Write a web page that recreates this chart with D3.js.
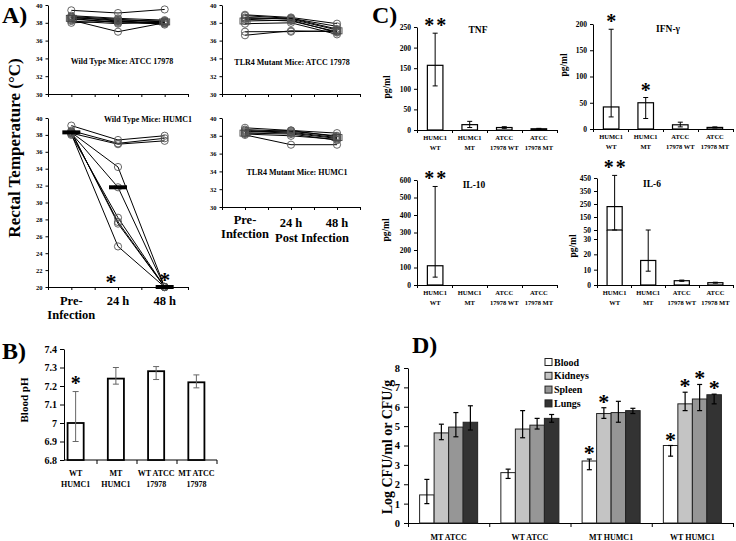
<!DOCTYPE html>
<html><head><meta charset="utf-8">
<script src="https://cdn.jsdelivr.net/npm/d3@7"></script>
<style>
body{margin:0;background:#fff;}
svg text{font-family:"Liberation Serif","Times New Roman",serif;font-weight:bold;fill:#000;}
</style></head><body>
<svg id="c" width="736" height="541"></svg>
<script>
// ---------------- DATA ----------------
const timepoints = ["Pre-Infection", "24 h", "48 h"];
const tempTicksSmall = [30, 32, 34, 36, 38, 40];
const tempTicksLarge = [20, 22, 24, 26, 28, 30, 32, 34, 36, 38, 40];

const wtAtccMice = [[39.4,39.1,39.5],[38.8,38.5,38.3],[38.7,38.4,38.1],[38.6,38.3,38.2],[38.5,38.0,37.9],
  [38.3,37.0,38.0],[38.2,37.9,38.2],[38.0,38.2,37.8],[38.6,38.2,38.0],[38.4,38.1,38.0]];
const wtAtccMean = [38.5, null, 38.1];

const mtAtccMice = [[38.9,38.6,37.9],[38.8,38.5,37.6],[38.6,38.4,37.2],[38.4,38.2,37.0],[38.2,38.3,36.9],
  [37.9,38.0,36.7],[37.0,37.0,37.1],[36.6,37.1,37.0],[38.5,38.5,37.3]];
const mtAtccMean = [38.2, null, 37.1];

const wtHumcMice = [[39.1,37.4,37.9],[38.5,37.0,37.6],[38.2,36.9,37.3],
  [38.3,34.2,20.0],[38.2,31.8,20.0],[38.0,28.2,20.0],[38.4,27.5,20.0],[38.3,27.7,20.0],[38.1,24.8,20.0]];
const wtHumcMean = [38.3, 31.8, 20.0];
const wtHumcSig = [{t:"24 h", v:21.0, dx:-7}, {t:"48 h", v:21.2, dx:0}];

const mtHumcMice = [[38.9,38.6,38.3],[38.7,38.5,38.0],[38.6,38.4,37.8],[38.5,38.3,37.7],[38.3,38.2,37.5],
  [38.2,38.0,37.6],[38.1,37.0,37.0],[38.4,38.6,37.9]];
const mtHumcMean = [38.3, null, 37.8];

// B) blood pH
const phGroups = ["WT HUMC1", "MT HUMC1", "WT ATCC 17978", "MT ATCC 17978"];
const phLabels = [["WT","HUMC1"],["MT","HUMC1"],["WT ATCC","17978"],["MT ATCC","17978"]];
const phMean = [7.00, 7.24, 7.28, 7.22];
const phLow  = [6.90, 7.21, 7.235, 7.19];
const phHigh = [7.17, 7.30, 7.305, 7.26];
const phSig  = ["*", "", "", ""];
const phTicks = [6.8, 6.9, 7.0, 7.1, 7.2, 7.3, 7.4];

// C) cytokines
const cytoGroups = ["HUMC1 WT", "HUMC1 MT", "ATCC 17978 WT", "ATCC 17978 MT"];
const cytoLabels = [["HUMC1","WT"],["HUMC1","MT"],["ATCC","17978 WT"],["ATCC","17978 MT"]];
const tnfMean = [157, 13, 6, 3];
const tnfLow  = [107, 6, 4, 2];
const tnfHigh = [235, 21, 8, 4];
const tnfSig  = ["**", "", "", ""];
const tnfTicks = [0, 50, 100, 150, 200, 250];

const ifnMean = [42, 50, 8, 3];
const ifnLow  = [23, 20, 4, 2];
const ifnHigh = [190, 60, 13, 4];
const ifnSig  = ["*", "*", "", ""];
const ifnTicks = [0, 50, 100, 150, 200];

const il10Mean = [110, 0, 0, 0];
const il10Low  = [45, null, null, null];
const il10High = [563, null, null, null];
const il10Sig  = ["**", "", "", ""];
const il10Ticks = [0, 100, 200, 300, 400, 500, 600];

const il6Mean = [230, 16, 2.8, 1.5];
const il6Low  = [50, 9, 2.4, 1.2];
const il6High = [470, 50, 3.2, 1.8];
const il6Sig  = ["**", "", "", ""];
const il6Ticks = [0, 10, 20, 30, 50, 150, 250, 350, 450];

// D) bacterial burden
const dGroups = ["MT ATCC", "WT ATCC", "MT HUMC1", "WT HUMC1"];
const dSeries = ["Blood", "Kidneys", "Spleen", "Lungs"];
const bloodMean   = [1.45, 2.60, 3.20, 4.00];
const bloodLow    = [1.00, 2.30, 2.75, 3.45];
const bloodHigh   = [2.25, 2.78, 3.30, 4.00];
const kidneysMean = [4.65, 4.85, 5.65, 6.15];
const kidneysLow  = [4.30, 4.40, 5.40, 5.80];
const kidneysHigh = [5.10, 5.80, 5.95, 6.75];
const spleenMean  = [4.95, 5.05, 5.70, 6.40];
const spleenLow   = [4.45, 4.85, 5.20, 5.80];
const spleenHigh  = [5.70, 5.40, 6.28, 7.15];
const lungsMean   = [5.20, 5.40, 5.80, 6.62];
const lungsLow    = [4.80, 5.20, 5.65, 6.15];
const lungsHigh   = [6.05, 5.60, 5.92, 6.65];
const bloodSig   = ["", "", "*", "*"];
const kidneysSig = ["", "", "*", "*"];
const spleenSig  = ["", "", "", "*"];
const lungsSig   = ["", "", "", "*"];
const dColors = ["#ffffff", "#c4c4c4", "#969696", "#333333"];
const dTicks = [0, 1, 2, 3, 4, 5, 6, 7, 8];

// ---------------- DRAWING ----------------
const svg = d3.select("#c");

function styleAxis(sel, fs) {
  sel.select(".domain").attr("stroke", "#000").attr("stroke-width", 1);
  sel.selectAll(".tick line").attr("stroke", "#000").attr("stroke-width", 1);
  sel.selectAll(".tick text").attr("font-size", fs).attr("fill", "#000")
     .attr("font-family", "Liberation Serif, serif").attr("font-weight", "bold");
}
function text(x, y, s, fs, anchor, rot) {
  const t = svg.append("text").attr("font-size", fs).attr("text-anchor", anchor || "start").text(s);
  if (rot) t.attr("transform", `translate(${x},${y}) rotate(${rot})`);
  else t.attr("x", x).attr("y", y);
  return t;
}

// ---- Panel A ----
function tempPanel(c) {
  const x = d3.scaleBand().domain(timepoints).range([c.x0, c.x1]).padding(0);
  const y = d3.scaleLinear().domain(c.domain).range([c.yBot, c.yTop]);
  const cx = t => x(t) + x.bandwidth() / 2;
  svg.append("g").attr("transform", `translate(${c.x0},0)`)
    .call(d3.axisLeft(y).tickValues(c.ticks).tickSize(2.5).tickSizeOuter(0).tickPadding(3))
    .call(s => styleAxis(s, 6.5));
  const xt = d3.scaleLinear().domain([0, 6]).range([c.x0, c.x1]);
  svg.append("g").attr("transform", `translate(0,${c.yBot})`)
    .call(d3.axisBottom(xt).ticks(6).tickFormat("").tickSize(3).tickSizeOuter(0))
    .call(s => styleAxis(s, 6));
  const line = d3.line().x((d, i) => cx(timepoints[i])).y(d => y(d));
  const g = svg.append("g");
  c.mice.forEach(m => {
    g.append("path").attr("d", line(m)).attr("fill", "none").attr("stroke", "#000").attr("stroke-width", 1);
  });
  c.mice.forEach(m => {
    m.forEach((v, i) => {
      g.append("circle").attr("cx", cx(timepoints[i])).attr("cy", y(v)).attr("r", 3.6)
        .attr("fill", "none").attr("stroke", "#555").attr("stroke-width", 0.9);
    });
  });
  c.mean.forEach((v, i) => {
    if (v == null) return;
    if (c.meanStyle === "bar") {
      g.append("rect").attr("x", cx(timepoints[i]) - 9).attr("y", y(v) - 2).attr("width", 18).attr("height", 4).attr("fill", "#000");
    } else {
      g.append("rect").attr("x", cx(timepoints[i]) - 5).attr("y", y(v) - 3).attr("width", 10).attr("height", 6)
        .attr("fill", "none").attr("stroke", "#444").attr("stroke-width", 0.9);
    }
  });
  (c.sig || []).forEach(s => {
    text(cx(s.t) + s.dx, y(s.v) + 10, "*", 22, "middle");
  });
  text(c.titleX, c.titleY, c.title, 8, "middle");
  return {x, y, cx};
}

text(2, 23, "A)", 24, "start");
const aTL = tempPanel({x0:48, x1:188, yTop:5, yBot:94, domain:[30,40], ticks:tempTicksSmall, mice:wtAtccMice, mean:wtAtccMean,
  meanStyle:"box", title:"Wild Type Mice: ATCC 17978", titleX:122, titleY:64});
const aTR = tempPanel({x0:222, x1:360, yTop:5, yBot:94, domain:[30,40], ticks:tempTicksSmall, mice:mtAtccMice, mean:mtAtccMean,
  meanStyle:"box", title:"TLR4 Mutant Mice: ATCC 17978", titleX:292, titleY:65});
const aBL = tempPanel({x0:48, x1:188, yTop:118, yBot:287, domain:[20,40], ticks:tempTicksLarge, mice:wtHumcMice, mean:wtHumcMean,
  meanStyle:"bar", sig:wtHumcSig, title:"Wild Type Mice: HUMC1", titleX:148, titleY:122});
const aBR = tempPanel({x0:222, x1:360, yTop:118, yBot:207, domain:[30,40], ticks:tempTicksSmall, mice:mtHumcMice, mean:mtHumcMean,
  meanStyle:"box", title:"TLR4 Mutant Mice: HUMC1", titleX:297, titleY:175});

// x labels for A
const axf = 12.5;
text(aBL.cx(timepoints[0]), 305, "Pre-", axf, "middle");
text(aBL.cx(timepoints[0]), 319, "Infection", axf, "middle");
text(aBL.cx(timepoints[1]), 305, "24 h", axf, "middle");
text(aBL.cx(timepoints[2]), 305, "48 h", axf, "middle");
text(aBR.cx(timepoints[0]), 224, "Pre-", axf, "middle");
text(aBR.cx(timepoints[0]), 238, "Infection", axf, "middle");
text(aBR.cx(timepoints[1]), 227, "24 h", axf, "middle");
text(aBR.cx(timepoints[2]), 227, "48 h", axf, "middle");
text(312, 242, "Post Infection", axf, "middle");
text(20, 148, "Rectal Temperature (°C)", 17, "middle", -90);

// ---- Panel B ----
{
  const x = d3.scaleBand().domain(phGroups).range([55.5, 216.5]).paddingInner(0.6).paddingOuter(0.3);
  const y = d3.scaleLinear().domain([6.8, 7.4]).range([460, 349]);
  svg.append("g").attr("transform", "translate(64,0)")
    .call(d3.axisLeft(y).tickValues(phTicks).tickFormat(d => String(+d.toFixed(1))).tickSize(4).tickSizeOuter(0).tickPadding(3))
    .call(s => styleAxis(s, 10));
  const xt = d3.scaleLinear().domain([0, 4]).range([57, 217]);
  svg.append("line").attr("x1", 64).attr("x2", 217).attr("y1", 460).attr("y2", 460).attr("stroke", "#000");
  [1, 2, 3, 4].forEach(k => svg.append("line").attr("x1", xt(k)).attr("x2", xt(k)).attr("y1", 460).attr("y2", 464).attr("stroke", "#000"));
  phGroups.forEach((gname, i) => {
    const bx = x(gname), bw = x.bandwidth(), mx = bx + bw / 2;
    svg.append("rect").attr("x", bx).attr("y", y(phMean[i])).attr("width", bw).attr("height", y(6.8) - y(phMean[i]))
      .attr("fill", "#fff").attr("stroke", "#000").attr("stroke-width", 1.8);
    const eg = svg.append("g").attr("stroke", "#666").attr("stroke-width", 1);
    eg.append("line").attr("x1", mx).attr("x2", mx).attr("y1", y(phLow[i])).attr("y2", y(phHigh[i]));
    eg.append("line").attr("x1", mx - 3).attr("x2", mx + 3).attr("y1", y(phLow[i])).attr("y2", y(phLow[i]));
    eg.append("line").attr("x1", mx - 3).attr("x2", mx + 3).attr("y1", y(phHigh[i])).attr("y2", y(phHigh[i]));
    if (phSig[i]) text(mx, y(phHigh[i]) - 2, phSig[i], 20, "middle");
    text(mx, 476, phLabels[i][0], 8, "middle");
    text(mx, 487, phLabels[i][1], 8, "middle");
  });
  text(2, 359, "B)", 24, "start");
  text(28, 400, "Blood pH", 11, "middle", -90);
}

// ---- Panel C ----
function cytoPanel(c) {
  const x = d3.scaleBand().domain(cytoGroups).range([c.x0, c.x1]).paddingInner(0.55).paddingOuter(0.3);
  const y = c.y;
  const y0 = y(0);
  svg.append("g").attr("transform", `translate(${c.x0},0)`)
    .call(d3.axisLeft(y).tickValues(c.ticks).tickSize(3).tickSizeOuter(0).tickPadding(3))
    .call(s => styleAxis(s, 7.5));
  const xt = d3.scaleLinear().domain([0, 4]).range([c.x0, c.x1]);
  svg.append("g").attr("transform", `translate(0,${y0})`)
    .call(d3.axisBottom(xt).ticks(4).tickFormat("").tickSize(3).tickSizeOuter(0))
    .call(s => styleAxis(s, 6));
  cytoGroups.forEach((gname, i) => {
    const bx = x(gname), bw = x.bandwidth(), mx = bx + bw / 2;
    const v = c.mean[i];
    if (v > 0) {
      if (c.breakAt && v > c.breakAt) {
        svg.append("rect").attr("x", bx).attr("y", y(v)).attr("width", bw).attr("height", y(c.breakAt) - y(v))
          .attr("fill", "#fff").attr("stroke", "#000").attr("stroke-width", 1.2);
        [bx, bx + bw].forEach(xx => svg.append("line").attr("x1", xx).attr("x2", xx).attr("y1", y(c.breakAt)).attr("y2", y0)
          .attr("stroke", "#000").attr("stroke-width", 1.2));
      } else {
        svg.append("rect").attr("x", bx).attr("y", y(v)).attr("width", bw).attr("height", y0 - y(v))
          .attr("fill", "#fff").attr("stroke", "#000").attr("stroke-width", 1.2);
      }
    }
    if (c.low[i] != null) {
      const eg = svg.append("g").attr("stroke", "#000").attr("stroke-width", 1);
      eg.append("line").attr("x1", mx).attr("x2", mx).attr("y1", y(c.low[i])).attr("y2", y(c.high[i]));
      eg.append("line").attr("x1", mx - 2.5).attr("x2", mx + 2.5).attr("y1", y(c.low[i])).attr("y2", y(c.low[i]));
      eg.append("line").attr("x1", mx - 2.5).attr("x2", mx + 2.5).attr("y1", y(c.high[i])).attr("y2", y(c.high[i]));
    }
    if (c.sig[i] === "**") {
      text(mx - 6, y(c.high[i]) - 1, "*", 20, "middle");
      text(mx + 6, y(c.high[i]) - 1, "*", 20, "middle");
    } else if (c.sig[i]) {
      text(mx, y(c.high[i]) - 1, c.sig[i], 20, "middle");
    }
    text(mx, y0 + 10, cytoLabels[i][0], 6.5, "middle");
    text(mx, y0 + 20, cytoLabels[i][1], 6.5, "middle");
  });
  text(c.titleX, c.titleY, c.title, 9.5, "middle");
  text(c.ylabX, c.ylabY, "pg/ml", 9.5, "middle", -90);
}
text(372, 23, "C)", 24, "start");
cytoPanel({x0:417, x1:557, y:d3.scaleLinear().domain([0,250]).range([130,27]), ticks:tnfTicks, mean:tnfMean, low:tnfLow, high:tnfHigh,
  sig:tnfSig, title:"TNF", titleX:478, titleY:33, ylabX:390, ylabY:87});
cytoPanel({x0:593, x1:733, y:d3.scaleLinear().domain([0,200]).range([129,24]), ticks:ifnTicks, mean:ifnMean, low:ifnLow, high:ifnHigh,
  sig:ifnSig, title:"IFN-γ", titleX:668, titleY:32, ylabX:567, ylabY:65});
cytoPanel({x0:417, x1:557, y:d3.scaleLinear().domain([0,600]).range([285,180]), ticks:il10Ticks, mean:il10Mean, low:il10Low, high:il10High,
  sig:il10Sig, title:"IL-10", titleX:474, titleY:188, ylabX:389, ylabY:230});
cytoPanel({x0:597, x1:733, y:d3.scaleLinear().domain([0,30,50,450]).range([285,239,230,178]), breakAt:50, ticks:il6Ticks,
  mean:il6Mean, low:il6Low, high:il6High, sig:il6Sig, title:"IL-6", titleX:652, titleY:187, ylabX:576, ylabY:246});

// ---- Panel D ----
{
  const x0 = d3.scaleBand().domain(dGroups).range([408, 733]).padding(0);
  const x1 = d3.scaleBand().domain(dSeries).range([0, x0.bandwidth()]).paddingInner(0).paddingOuter(0.8);
  const y = d3.scaleLinear().domain([0, 8]).range([523, 368]);
  svg.append("g").attr("transform", "translate(408,0)")
    .call(d3.axisLeft(y).tickValues(dTicks).tickSize(4).tickSizeOuter(0).tickPadding(4))
    .call(s => styleAxis(s, 10.5));
  svg.append("g").attr("transform", "translate(0,523)")
    .call(d3.axisBottom(d3.scaleLinear().domain([0, 4]).range([408, 733])).ticks(4).tickFormat("").tickSize(4).tickSizeOuter(0))
    .call(s => styleAxis(s, 6));
  const means = [bloodMean, kidneysMean, spleenMean, lungsMean];
  const lows = [bloodLow, kidneysLow, spleenLow, lungsLow];
  const highs = [bloodHigh, kidneysHigh, spleenHigh, lungsHigh];
  const sigs = [bloodSig, kidneysSig, spleenSig, lungsSig];
  dGroups.forEach((gname, gi) => {
    dSeries.forEach((sname, si) => {
      const bx = x0(gname) + x1(sname), bw = x1.bandwidth(), mx = bx + bw / 2;
      const v = means[si][gi];
      svg.append("rect").attr("x", bx).attr("y", y(v)).attr("width", bw).attr("height", y(0) - y(v))
        .attr("fill", dColors[si]).attr("stroke", "#222").attr("stroke-width", 1);
      const eg = svg.append("g").attr("stroke", "#000").attr("stroke-width", 1.2);
      const lo = y(lows[si][gi]), hi = y(highs[si][gi]);
      eg.append("line").attr("x1", mx).attr("x2", mx).attr("y1", lo).attr("y2", hi);
      eg.append("line").attr("x1", mx - 2.5).attr("x2", mx + 2.5).attr("y1", lo).attr("y2", lo);
      eg.append("line").attr("x1", mx - 2.5).attr("x2", mx + 2.5).attr("y1", hi).attr("y2", hi);
      if (sigs[si][gi]) text(mx, hi + 1, sigs[si][gi], 22, "middle");
    });
    text(x0(gname) + x0.bandwidth() / 2, 540, gname, 8, "middle");
  });
  // legend
  dSeries.forEach((s, i) => {
    const ly = 362 + i * 13.8;
    svg.append("rect").attr("x", 545).attr("y", ly - 3.5).attr("width", 7).attr("height", 7)
      .attr("fill", dColors[i]).attr("stroke", "#222").attr("stroke-width", 1);
    text(554, ly + 3.5, s, 10, "start");
  });
  text(412, 353, "D)", 24, "start");
  text(392, 447, "Log CFU/ml or CFU/g", 14, "middle", -90);
}
</script>
</body></html>
